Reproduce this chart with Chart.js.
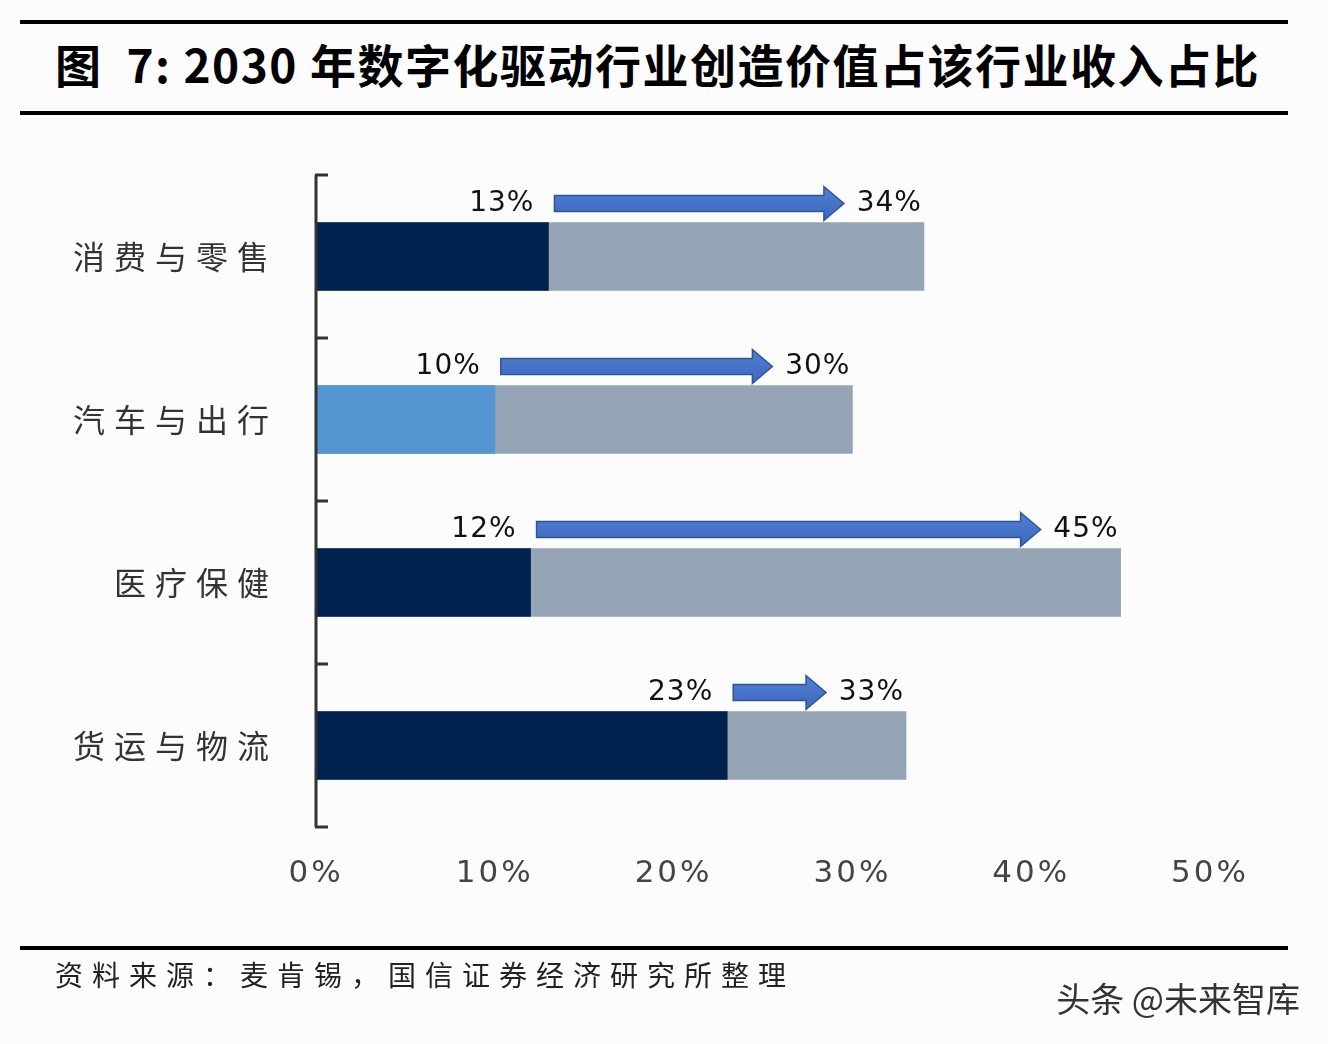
<!DOCTYPE html>
<html>
<head>
<meta charset="utf-8">
<script src="https://cdn.jsdelivr.net/npm/chart.js@4.4.0/dist/chart.umd.min.js"></script>
<style>
    html, body { margin: 0; padding: 0; background: #fcfcfd; }
    body { width: 1328px; height: 1044px; position: relative; overflow: hidden; font-family: "Noto Sans CJK SC", sans-serif; }
    .rule { position: absolute; left: 20px; width: 1268px; background: #000; }
    #title { position: absolute; left: 55px; top: 33px; font-size: 46px; font-weight: bold; line-height: 60px; letter-spacing: 1.5px; white-space: pre; color: #000; }
    #source { position: absolute; left: 55px; top: 954px; font-size: 28px; line-height: 40px; letter-spacing: 9px; color: #222; }
    #mark { position: absolute; right: 28px; top: 978px; font-size: 34px; line-height: 40px; color: #333; }
    #chart { position: absolute; left: 0; top: 0; }
</style>
</head>
<body>
<div class="rule" style="top:20px;height:4px"></div>
<div id="title">图  7: 2030 年数字化驱动行业创造价值占该行业收入占比</div>
<div class="rule" style="top:111px;height:4px"></div>
<canvas id="chart" width="1328" height="1044"></canvas>
<div class="rule" style="top:946px;height:4px"></div>
<div id="source">资料来源：麦肯锡，国信证券经济研究所整理</div>
<div id="mark">头条 @未来智库</div>

<script>
// Data
const categories = ['消费与零售', '汽车与出行', '医疗保健', '货运与物流'];
const currentShare = [13, 10, 12, 23];   // today
const share2030 = [34, 30, 45, 33];      // 2030
const xTicks = [0, 10, 20, 30, 40, 50];

const currentColors = ['#00224f', '#5595d2', '#00224f', '#00224f'];

function drawArrow(ctx, x0, x1, yc) {
    const shaft = 8, head = 17, headLen = 20;
    const grad = ctx.createLinearGradient(0, yc - head, 0, yc + head);
    grad.addColorStop(0, '#4f7fd3');
    grad.addColorStop(1, '#3d68bd');
    ctx.beginPath();
    ctx.moveTo(x0, yc - shaft);
    ctx.lineTo(x1 - headLen, yc - shaft);
    ctx.lineTo(x1 - headLen, yc - head);
    ctx.lineTo(x1, yc);
    ctx.lineTo(x1 - headLen, yc + head);
    ctx.lineTo(x1 - headLen, yc + shaft);
    ctx.lineTo(x0, yc + shaft);
    ctx.closePath();
    ctx.fillStyle = grad;
    ctx.fill();
    ctx.strokeStyle = '#2f5597';
    ctx.lineWidth = 1.5;
    ctx.stroke();
}

const decorPlugin = {
    id: 'decor',
    beforeDraw(chart) {
        // spacing for the x tick labels
        chart.ctx.letterSpacing = '3px';
    },
    afterDatasetsDraw(chart) {
        const ctx = chart.ctx;
        const xs = chart.scales.x, ys = chart.scales.y;
        const cur = chart.getDatasetMeta(0).data;
        const tot = chart.getDatasetMeta(1).data;

        ctx.save();
        // y axis line with inward ticks at category borders
        const left = xs.getPixelForValue(0);
        const half = (ys.getPixelForValue(1) - ys.getPixelForValue(0)) / 2;
        ctx.strokeStyle = '#333';
        ctx.lineWidth = 3;
        ctx.beginPath();
        ctx.moveTo(left, ys.top);
        ctx.lineTo(left, ys.bottom);
        for (let i = 0; i <= categories.length; i++) {
            const yy = ys.getPixelForValue(i) - half;
            ctx.moveTo(left - 1, yy);
            ctx.lineTo(left + 12, yy);
        }
        ctx.stroke();

        // value labels and arrows
        ctx.letterSpacing = '1px';
        ctx.font = '28px "DejaVu Sans", sans-serif';
        ctx.textAlign = 'right';
        ctx.textBaseline = 'middle';
        cur.forEach((bar, i) => {
            const end = tot[i];
            const yc = bar.y - bar.height / 2 - 19;
            ctx.fillStyle = '#111';
            ctx.fillText(currentShare[i] + '%', bar.x - 14, yc);
            ctx.fillText(share2030[i] + '%', end.x - 2, yc);
            drawArrow(ctx, bar.x + 6, end.x - 80, yc);
        });
        ctx.restore();

        // spacing for the y tick labels (drawn after datasets, z = 1)
        ctx.letterSpacing = '9px';
    }
};

new Chart(document.getElementById('chart').getContext('2d'), {
    type: 'bar',
    data: {
        labels: categories,
        datasets: [
            {
                label: '当前',
                data: currentShare,
                backgroundColor: currentColors,
                grouped: false,
                barThickness: 68
            },
            {
                label: '2030',
                data: share2030,
                backgroundColor: '#95a5b5',
                grouped: false,
                barThickness: 68
            }
        ]
    },
    options: {
        indexAxis: 'y',
        responsive: false,
        animation: false,
        devicePixelRatio: 1,
        layout: { padding: { left: 16, right: 118, top: 175, bottom: 117 } },
        plugins: {
            legend: { display: false },
            tooltip: { enabled: false }
        },
        scales: {
            x: {
                min: 0,
                max: 50,
                afterFit: (scale) => { scale.height = 100; },
                afterBuildTicks: (scale) => { scale.ticks = xTicks.map(v => ({ value: v })); },
                grid: { display: false, drawTicks: false },
                border: { display: false },
                ticks: {
                    padding: 28,
                    color: '#444',
                    font: { family: '"DejaVu Sans", sans-serif', size: 31 },
                    callback: (v) => v + '%'
                }
            },
            y: {
                afterFit: (scale) => { scale.width = 300; },
                grid: { display: false, drawTicks: false },
                border: { display: false },
                ticks: {
                    z: 1,
                    padding: 38,
                    color: '#333',
                    font: { family: '"Noto Sans CJK SC", sans-serif', size: 32 }
                }
            }
        }
    },
    plugins: [decorPlugin]
});
</script>
</body>
</html>
